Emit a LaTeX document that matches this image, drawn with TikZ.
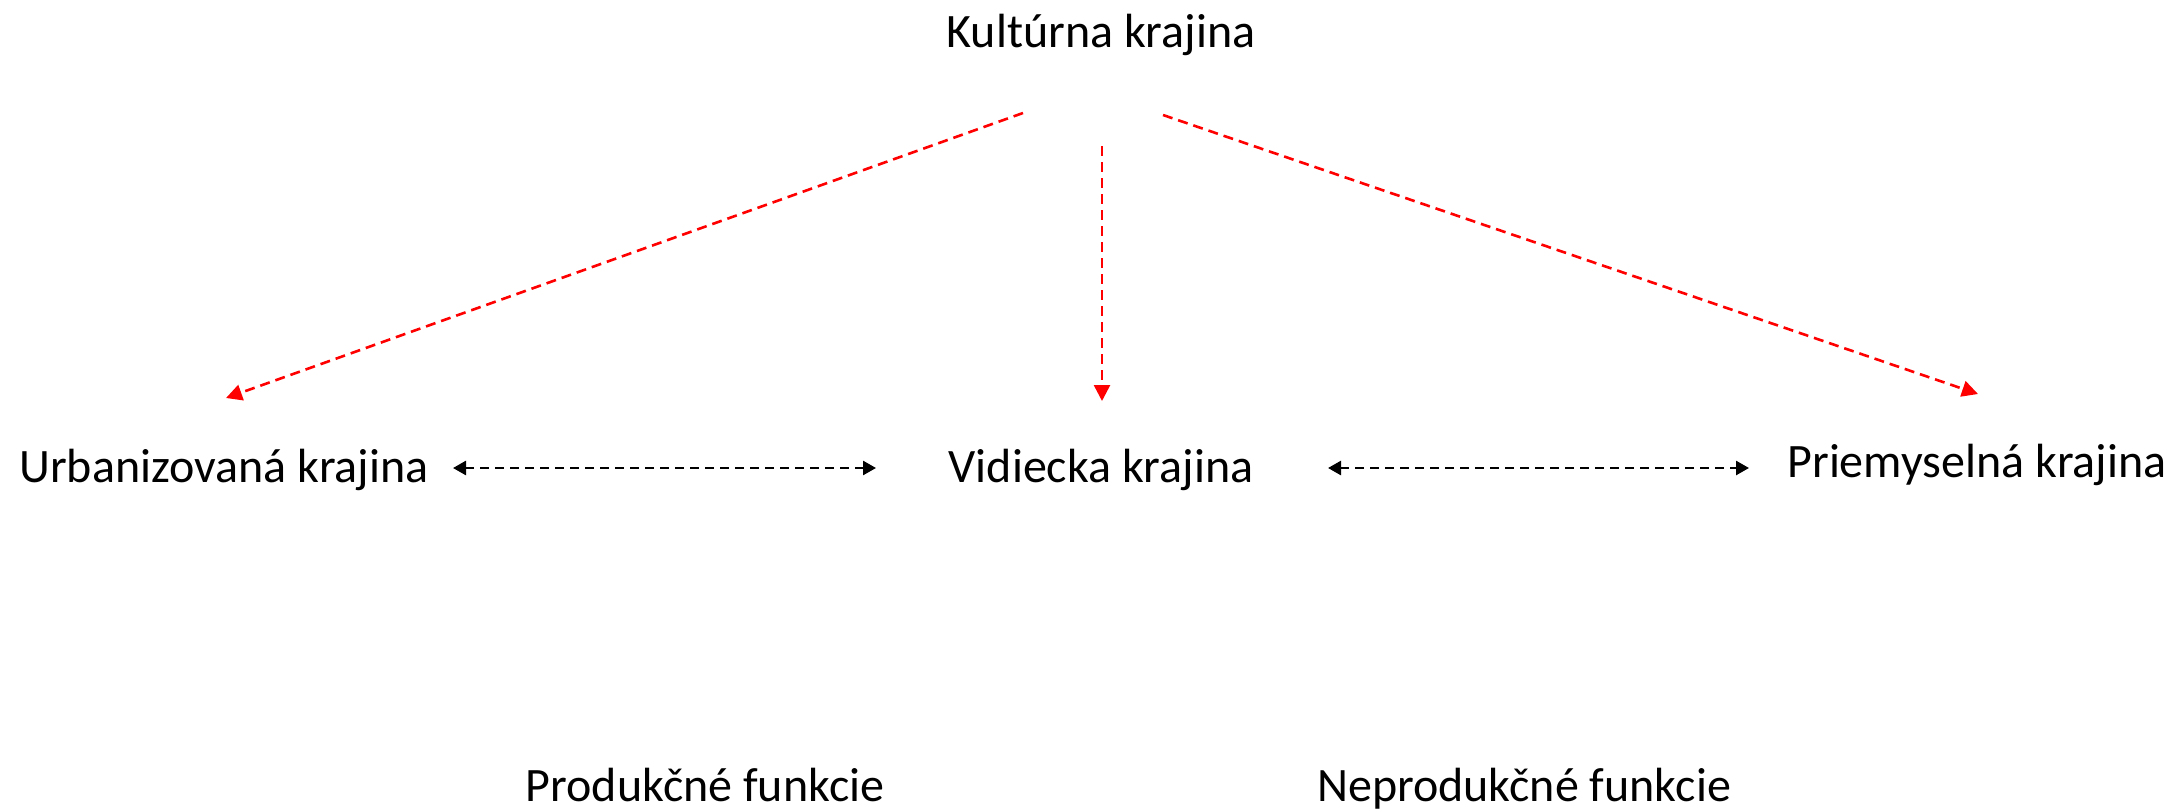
\documentclass[tikz,border=0pt]{standalone}
\usepackage{fontspec}
\setmainfont{Carlito}
\usetikzlibrary{arrows.meta}
\begin{document}
\begin{tikzpicture}[x=1pt,y=-1pt,
  lbl/.style={anchor=base,inner sep=0pt,font=\fontsize{48}{58}\selectfont},
  redarr/.style={draw=red,line width=2.6pt,dash pattern=on 10pt off 6pt,-{Triangle[length=16pt,width=16pt]}},
  blkarr/.style={draw=black,line width=2.6pt,dash pattern=on 9pt off 6pt,{Triangle[length=13pt,width=14pt]}-{Triangle[length=13pt,width=14pt]}}]
\useasboundingbox (0,0) rectangle (2173,811);
\node[lbl] (kult) at (1101,47) {Kultúrna krajina};
\node[lbl] (urb) at (224,482) {Urbanizovaná krajina};
\node[lbl] (vid) at (1101,482) {Vidiecka krajina};
\node[lbl] (prie) at (1977,477) {Priemyselná krajina};
\node[lbl] (prod) at (705,801) {Produkčné funkcie};
\node[lbl] (neprod) at (1524,801) {Neprodukčné funkcie};
\coordinate (k1) at (1023,113);
\coordinate (k2) at (1102,146);
\coordinate (k3) at (1163,115);
\coordinate (u1) at (226,398);
\coordinate (v1) at (1102,401);
\coordinate (p1) at (1978,394);
\coordinate (ua) at (453,468);
\coordinate (va) at (876,468);
\coordinate (vb) at (1328,468);
\coordinate (pb) at (1749,468);
\draw[redarr] (k1) -- (u1);
\draw[redarr] (k2) -- (v1);
\draw[redarr] (k3) -- (p1);
\draw[blkarr] (ua) -- (va);
\draw[blkarr] (vb) -- (pb);
\end{tikzpicture}
\end{document}
